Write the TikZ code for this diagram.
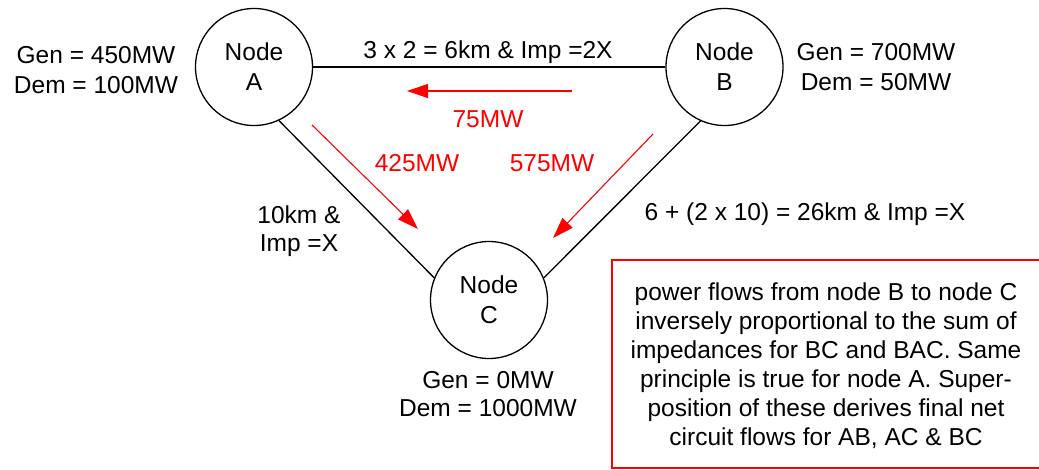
\documentclass[tikz,border=0pt]{standalone}
\usepackage{fontspec}
\setmainfont{Liberation Sans}
\usetikzlibrary{arrows.meta}
\begin{document}
\begin{tikzpicture}[x=1pt,y=-1pt,
  every node/.style={font=\fontsize{24.5}{30}\selectfont, inner sep=0pt, text depth=0pt},
  bus/.style={draw=black, circle, line width=1.3pt, minimum size=117pt, align=center},
  line/.style={draw=black, line width=1.3pt},
  flow/.style={draw=red, line width=1.1pt, -{Triangle[length=21pt,width=14pt]}},
  flowlbl/.style={text=red},
  lbl/.style={align=center},
  note/.style={draw=red, line width=1.5pt}
]
\useasboundingbox (0,0) rectangle (1039,469);
\clip (0,0) rectangle (1039,469);
\node[bus] (A) at (254,67) {Node\\A};
\node[bus] (B) at (724.5,67) {Node\\B};
\node[bus] (C) at (489,300) {Node\\C};
\draw[line] (A.east) -- (B.west);
\draw[line] (A.-65) -- (C.158);
\draw[line] (B.-114) -- (C.22);
\node[lbl] (genA) at (96,70) {Gen = 450MW\\Dem = 100MW};
\node[lbl] (genB) at (876,67) {Gen = 700MW\\Dem = 50MW};
\node[lbl, font=\fontsize{24.5}{28}\selectfont] (genC) at (488,394) {Gen = 0MW\\Dem = 1000MW};
\node[lbl] (labAB) at (488,50) {3 x 2 = 6km \& Imp =2X};
\node[lbl, font=\fontsize{24.5}{28}\selectfont] (labAC) at (299,229) {10km \&\\Imp =X};
\node[lbl] (labBC) at (805,212) {6 + (2 x 10) = 26km \& Imp =X};
\coordinate (f1s) at (572,91);
\coordinate (f1e) at (407,91);
\coordinate (f2s) at (312,125);
\coordinate (f2e) at (418,229);
\coordinate (f3s) at (653,134);
\coordinate (f3e) at (553,238);
\draw[flow] (f1s) -- (f1e);
\draw[flow] (f2s) -- (f2e);
\draw[flow] (f3s) -- (f3e);
\node[flowlbl] (l75) at (488,119) {75MW};
\node[flowlbl] (l425) at (417,163) {425MW};
\node[flowlbl] (l575) at (552,163) {575MW};
\draw[note] (612,260) rectangle (1045,468);
\node[lbl, font=\fontsize{24.5}{29}\selectfont] (txt) at (826,364) {power flows from node B to node C\\inversely proportional to the sum of\\impedances for BC and BAC. Same\\principle is true for node A. Super-\\position of these derives final net\\circuit flows for AB, AC \& BC};
\end{tikzpicture}
\end{document}
